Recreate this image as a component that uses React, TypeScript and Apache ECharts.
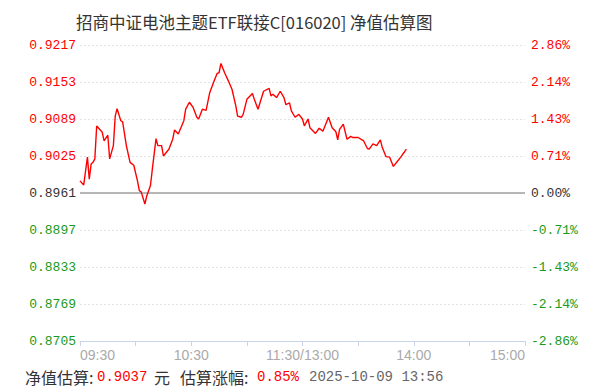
import React, { useEffect, useRef } from "react";
import * as echarts from "echarts";

// Intraday estimated NAV, sampled at the listed trading minutes
const times: string[] = [
  "09:30", "09:32", "09:34", "09:35", "09:36", "09:37", "09:38", "09:39", "09:42", "09:43",
  "09:45", "09:46", "09:48", "09:49", "09:50", "09:52", "09:53", "09:55", "09:57", "09:59",
  "10:01", "10:02", "10:03", "10:05", "10:06", "10:08", "10:09", "10:11", "10:12", "10:14",
  "10:15", "10:18", "10:20", "10:21", "10:23", "10:26", "10:27", "10:29", "10:31", "10:33",
  "10:34", "10:36", "10:38", "10:40", "10:42", "10:44", "10:45", "10:46", "10:48", "10:50",
  "10:52", "10:54", "10:55", "10:57", "10:58", "11:00", "11:03", "11:04", "11:06", "11:09",
  "11:12", "11:13", "11:14", "11:16", "11:18", "11:20", "11:21", "11:23", "11:24", "11:26",
  "11:28", "11:30", "13:01", "13:03", "13:04", "13:07", "13:09", "13:11", "13:14", "13:16",
  "13:18", "13:19", "13:20", "13:22", "13:24", "13:26", "13:27", "13:30", "13:33", "13:35",
  "13:36", "13:38", "13:40", "13:42", "13:43", "13:45", "13:47", "13:49", "13:51", "13:53",
  "13:54", "13:55", "13:56",
];
const navs: number[] = [
  0.8982, 0.8975, 0.9023, 0.8985, 0.9011, 0.9014, 0.9020, 0.9077, 0.9066, 0.9051,
  0.9061, 0.9020, 0.9043, 0.9094, 0.9107, 0.9086, 0.9084, 0.9043, 0.9014, 0.9009,
  0.8982, 0.8965, 0.8963, 0.8942, 0.8956, 0.8974, 0.9002, 0.9055, 0.9043, 0.9043,
  0.9025, 0.9037, 0.9054, 0.9070, 0.9063, 0.9086, 0.9106, 0.9118, 0.9109, 0.9092,
  0.9089, 0.9106, 0.9104, 0.9135, 0.9152, 0.9168, 0.9169, 0.9185, 0.9169, 0.9155,
  0.9140, 0.9112, 0.9094, 0.9092, 0.9097, 0.9123, 0.9133, 0.9123, 0.9106, 0.9137,
  0.9142, 0.9129, 0.9132, 0.9126, 0.9137, 0.9126, 0.9114, 0.9117, 0.9103, 0.9092,
  0.9097, 0.9089, 0.9077, 0.9089, 0.9074, 0.9064, 0.9073, 0.9068, 0.9092, 0.9074,
  0.9067, 0.9053, 0.9071, 0.9080, 0.9054, 0.9059, 0.9057, 0.9057, 0.9051, 0.9038,
  0.9037, 0.9046, 0.9043, 0.9053, 0.9040, 0.9024, 0.9023, 0.9007, 0.9015, 0.9023,
  0.9028, 0.9032, 0.9037,
];

// Previous NAV (zero line) and the axis scale
const baseNav = 0.8961;
const navMin = 0.8705;
const navMax = 0.9217;
const navStep = 0.0064;

// Hourly time labels at trading-minute offsets
const timeLabels: Record<number, string> = {
  0: "09:30",
  60: "10:30",
  120: "11:30/13:00",
  180: "14:00",
  240: "15:00",
};
const sessionStart = 0;
const sessionEnd = 240;

const fundTitle = "招商中证电池主题ETF联接C[016020] 净值估算图";
const estNav = "0.9037";
const estChange = "0.85%";
const estTime = "2025-10-09 13:56";

// Minutes since the open, with the lunch break removed
function tradingMinute(t: string): number {
  const [h, m] = t.split(":").map(Number);
  const mins = h * 60 + m;
  if (mins <= 11 * 60 + 30) return mins - (9 * 60 + 30);
  return 120 + mins - 13 * 60;
}

const RED = "#ff0000";
const GREEN = "#1a9a1a";
const GRAY = "#333333";
const CJK = '"Noto Sans CJK SC"';
const MONO = '"Liberation Mono"';

function levelColor(v: number): string {
  if (v > baseNav + 1e-6) return RED;
  if (v < baseNav - 1e-6) return GREEN;
  return GRAY;
}

function footText(x: number, text: string, fill: string, font: string) {
  return {
    type: "text",
    x,
    y: 377,
    style: { text, fill, font, textVerticalAlign: "middle" },
  };
}

export default function App() {
  const ref = useRef<HTMLDivElement>(null);

  useEffect(() => {
    if (!ref.current) return;
    const chart = echarts.init(ref.current, undefined, { renderer: "svg" });
    const points = times.map((t, i) => [tradingMinute(t), navs[i]]);

    const yCommon = {
      type: "value" as const,
      min: navMin,
      max: navMax,
      interval: navStep,
      axisLine: { show: false },
      axisTick: { show: false },
    };

    chart.setOption({
      animation: false,
      backgroundColor: "#ffffff",
      grid: { left: 80, right: 78, top: 45, bottom: 49 },
      graphic: [
        {
          type: "text",
          x: 76,
          y: 22,
          style: {
            text: fundTitle,
            fill: "#333333",
            font: `16.5px ${CJK}`,
            textVerticalAlign: "middle",
          },
        },
        footText(25, "净值估算:", "#333333", `16px ${CJK}`),
        footText(97, estNav, RED, `14px ${MONO}`),
        footText(154, "元", "#333333", `16px ${CJK}`),
        footText(180, "估算涨幅:", "#333333", `16px ${CJK}`),
        footText(257, estChange, RED, `14px ${MONO}`),
        footText(309, estTime, "#666666", `14px ${MONO}`),
      ],
      xAxis: {
        type: "value",
        min: sessionStart,
        max: sessionEnd,
        interval: 30,
        axisLine: { show: true, lineStyle: { color: "#c8d5e8", width: 1 } },
        axisTick: { show: true, length: 5, lineStyle: { color: "#c8d5e8" } },
        splitLine: { show: false },
        axisLabel: {
          color: "#aaaaaa",
          fontSize: 14,
          fontFamily: "Liberation Sans",
          margin: 7,
          alignMinLabel: "left",
          alignMaxLabel: "right",
          showMinLabel: true,
          showMaxLabel: true,
          formatter: (v: number) => timeLabels[Math.round(v)] ?? "",
        },
      },
      yAxis: [
        {
          ...yCommon,
          position: "left",
          splitLine: {
            show: true,
            lineStyle: { color: "#e2e2e2", type: [2, 2], width: 1 },
          },
          axisLabel: {
            margin: 4,
            fontSize: 13,
            fontFamily: "Liberation Mono",
            color: (v: number) => levelColor(Number(v)),
            formatter: (v: number) => v.toFixed(4),
          },
        },
        {
          ...yCommon,
          position: "right",
          splitLine: { show: false },
          axisLabel: {
            margin: 6,
            fontSize: 13,
            fontFamily: "Liberation Mono",
            color: (v: number) => levelColor(Number(v)),
            formatter: (v: number) => {
              const pct = (v / baseNav - 1) * 100;
              const s = Math.abs(pct) < 0.005 ? "0.00" : pct.toFixed(2);
              return s + "%";
            },
          },
        },
      ],
      series: [
        {
          // zero-change reference line at the previous NAV
          type: "line",
          yAxisIndex: 0,
          data: [
            [sessionStart, baseNav],
            [sessionEnd, baseNav],
          ],
          symbol: "none",
          silent: true,
          lineStyle: { color: "#a0a0a0", width: 1.5 },
          z: 1,
        },
        {
          type: "line",
          yAxisIndex: 0,
          data: points,
          showSymbol: false,
          symbol: "none",
          lineStyle: { color: RED, width: 1.4 },
          z: 2,
        },
        {
          type: "line",
          yAxisIndex: 1,
          data: [],
        },
      ],
    });

    return () => chart.dispose();
  }, []);

  return (
    <div
      ref={ref}
      style={{ position: "absolute", left: 0, top: 0, width: 603, height: 390 }}
    />
  );
}
